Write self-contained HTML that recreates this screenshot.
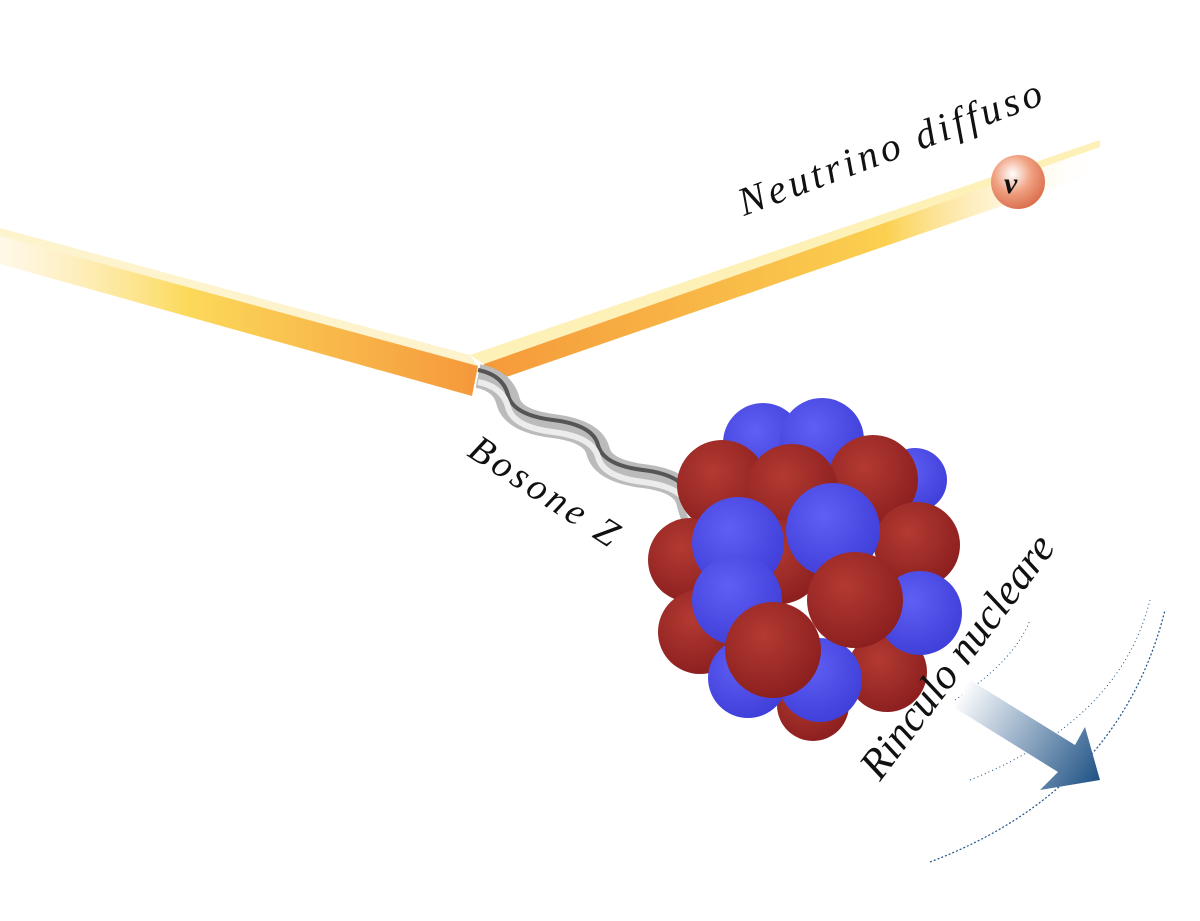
<!DOCTYPE html>
<html><head><meta charset="utf-8"><style>
html,body{margin:0;padding:0;background:#fff;width:1200px;height:921px;overflow:hidden}
text{font-family:"Liberation Serif",serif;font-style:italic;fill:#111}
</style></head><body>
<svg width="1200" height="921" viewBox="0 0 1200 921" xmlns="http://www.w3.org/2000/svg">
<defs>
<linearGradient id="gin" x1="0" y1="0" x2="470" y2="0" gradientUnits="userSpaceOnUse">
<stop offset="0" stop-color="#fde9b0" stop-opacity="0.3"/><stop offset="0.4" stop-color="#fcd95a"/><stop offset="1" stop-color="#f59a3c"/></linearGradient>
<linearGradient id="gout" x1="480" y1="0" x2="1105" y2="0" gradientUnits="userSpaceOnUse">
<stop offset="0" stop-color="#f5993a"/><stop offset="0.65" stop-color="#fbd050"/><stop offset="1" stop-color="#fff" stop-opacity="0"/></linearGradient>
<radialGradient id="gnu" cx="0.4" cy="0.35" r="0.7"><stop offset="0" stop-color="#fff"/><stop offset="0.5" stop-color="#f0a080"/><stop offset="1" stop-color="#d86a4a"/></radialGradient>
<radialGradient id="R" cx="0.4" cy="0.35" r="0.7"><stop offset="0" stop-color="#b33a32"/><stop offset="1" stop-color="#8a1e1e"/></radialGradient>
<radialGradient id="B" cx="0.4" cy="0.35" r="0.7"><stop offset="0" stop-color="#5f5ff5"/><stop offset="1" stop-color="#3e3ed8"/></radialGradient>
<linearGradient id="garr" x1="960" y1="690" x2="1100" y2="780" gradientUnits="userSpaceOnUse">
<stop offset="0" stop-color="#fff"/><stop offset="1" stop-color="#1f5285"/></linearGradient>
</defs>
<!-- incoming beam -->
<polygon points="0,228 470,355 478,366 0,236" fill="#fdf0c0" opacity="0.8"/>
<polygon points="0,236 478,366 472,396 0,264" fill="url(#gin)"/>
<!-- outgoing beam -->
<polygon points="470,355 1100,140 1100,147 484,364" fill="#fdf0b0" opacity="0.9"/>
<polygon points="484,364 1100,147 1100,172 480,386" fill="url(#gout)"/>
<!-- boson -->
<path d="M478,376 q25,5 30,25 t45,25 t45,25 t45,25 t45,25 t12,30" fill="none" stroke="#bbb" stroke-width="24" stroke-linejoin="round"/>
<path d="M478,370 q25,5 30,25 t45,25 t45,25 t45,25 t45,25 t12,30" fill="none" stroke="#555" stroke-width="4"/>
<path d="M478,382 q25,5 30,25 t45,25 t45,25 t45,25 t45,25 t12,30" fill="none" stroke="#ececec" stroke-width="6"/>
<!-- nucleus -->
<g>
<circle cx="763" cy="443" r="40" fill="url(#B)"/>
<circle cx="822" cy="440" r="42" fill="url(#B)"/>
<circle cx="915" cy="480" r="32" fill="url(#B)"/>
<circle cx="813" cy="705" r="36" fill="url(#R)"/>
<circle cx="722" cy="485" r="45" fill="url(#R)"/>
<circle cx="873" cy="480" r="45" fill="url(#R)"/>
<circle cx="792" cy="490" r="46" fill="url(#R)"/>
<circle cx="690" cy="560" r="42" fill="url(#R)"/>
<circle cx="917" cy="545" r="43" fill="url(#R)"/>
<circle cx="780" cy="562" r="42" fill="url(#R)"/>
<circle cx="738" cy="543" r="46" fill="url(#B)"/>
<circle cx="833" cy="530" r="47" fill="url(#B)"/>
<circle cx="700" cy="632" r="42" fill="url(#R)"/>
<circle cx="887" cy="672" r="40" fill="url(#R)"/>
<circle cx="920" cy="613" r="42" fill="url(#B)"/>
<circle cx="820" cy="680" r="42" fill="url(#B)"/>
<circle cx="748" cy="678" r="40" fill="url(#B)"/>
<circle cx="737" cy="600" r="45" fill="url(#B)"/>
<circle cx="855" cy="600" r="48" fill="url(#R)"/>
<circle cx="773" cy="650" r="48" fill="url(#R)"/>
</g>
<!-- arcs -->
<path d="M930,862 Q1120,790 1165,610" fill="none" stroke="#1f5285" stroke-width="1.2" stroke-dasharray="2,2"/>
<path d="M970,780 Q1120,720 1150,600" fill="none" stroke="#1f5285" stroke-width="1" stroke-dasharray="1,3"/>
<path d="M955,700 Q1015,660 1030,620" fill="none" stroke="#1f5285" stroke-width="1" stroke-dasharray="1,3"/>
<!-- arrow -->
<polygon points="970,680 1075,745 1085,727 1100,780 1040,790 1058,772 955,708" fill="url(#garr)"/>
<!-- neutrino -->
<circle cx="1018" cy="182" r="27" fill="url(#gnu)"/>
<text x="1004" y="193" font-size="30" font-weight="bold" style="fill:#111">ν</text>
<!-- labels -->
<text transform="translate(744,216) rotate(-20.5)" font-size="40" letter-spacing="4">Neutrino diffuso</text>
<text transform="translate(466,455) rotate(33)" font-size="38" letter-spacing="4">Bosone Z</text>
<text transform="translate(880,782) rotate(-53)" font-size="43">Rinculo nucleare</text>
</svg>
</body></html>
